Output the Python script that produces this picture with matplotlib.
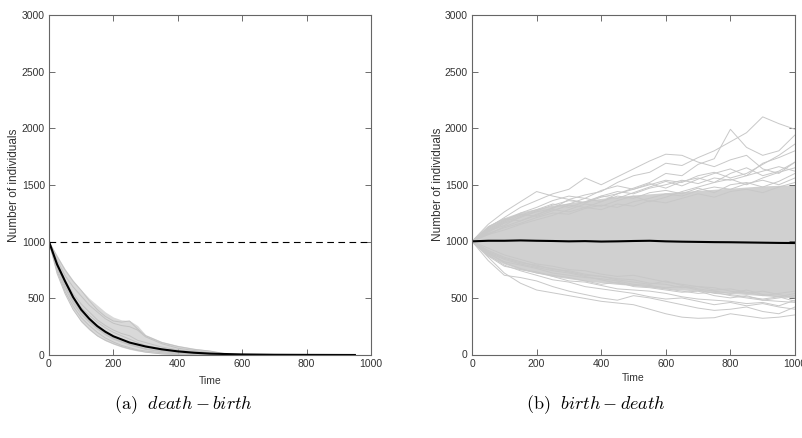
import matplotlib
matplotlib.use("Agg")
import matplotlib.pyplot as plt

plt.rcParams['font.family'] = ['Liberation Sans', 'DejaVu Sans']
plt.rcParams['mathtext.fontset'] = 'cm'

# ---- panel (a): death - birth ----
t_mean_a = [0, 25, 50, 75, 100, 125, 150, 175, 200, 250, 300, 350, 400, 450, 500, 600, 700, 800, 950]
mean_a = [1000, 800, 650, 510, 400, 320, 255, 205, 165, 110, 75, 50, 32, 20, 12, 5, 2, 1, 0]

t_a = [0, 25, 50, 75, 100, 125, 150, 175, 200, 225, 250, 275, 300, 350, 400, 450, 500, 550]
upper_a = [1000, 880, 760, 660, 575, 500, 440, 380, 335, 310, 305, 260, 180, 120, 85, 60, 40, 15]
lower_a = [1000, 720, 540, 400, 290, 220, 165, 125, 95, 70, 50, 35, 25, 10, 0, 0, 0, 0]
runs_a = [
    [1000, 870, 750, 650, 570, 480, 400, 340, 300, 290, 300, 230, 170, 110, 75, 50, 35, 10],
    [1000, 840, 700, 600, 520, 440, 380, 320, 280, 260, 250, 220, 160, 100, 60, 40, 20, 5],
    [1000, 820, 660, 540, 450, 380, 310, 260, 220, 190, 170, 130, 110, 70, 45, 30, 15, 0],
    [1000, 780, 610, 480, 380, 300, 240, 190, 150, 120, 95, 75, 55, 35, 20, 10, 5, 0],
    [1000, 740, 560, 430, 330, 260, 200, 150, 115, 85, 65, 45, 35, 20, 10, 5, 0, 0],
    [1000, 720, 540, 400, 300, 230, 170, 130, 100, 75, 55, 40, 25, 10, 5, 0, 0, 0],
    [1000, 800, 640, 510, 420, 350, 290, 240, 200, 170, 140, 110, 85, 55, 35, 25, 15, 5],
    [1000, 760, 590, 460, 360, 290, 230, 180, 140, 115, 90, 70, 50, 30, 18, 10, 5, 0],
]

# ---- panel (b): birth - death ----
t_b = list(range(0, 1001, 50))
mean_b = [1000, 1005, 1005, 1008, 1005, 1003, 1000, 1002, 998, 1000, 1003,
          1005, 1000, 997, 995, 993, 992, 990, 988, 986, 985]
band_hi_b = [1000, 1140, 1210, 1260, 1290, 1320, 1340, 1360, 1380, 1395, 1410,
             1420, 1430, 1440, 1450, 1460, 1470, 1480, 1490, 1495, 1500]
band_lo_b = [1000, 870, 800, 750, 720, 690, 670, 650, 635, 620, 610,
             595, 580, 570, 560, 550, 540, 530, 520, 510, 500]
runs_b = [
    # high outliers
    [1000, 1090, 1140, 1220, 1260, 1290, 1370, 1410, 1440, 1520, 1580, 1610, 1690, 1670, 1740, 1800, 1880, 1960, 2100, 2040, 1990],
    [1000, 1060, 1130, 1180, 1230, 1300, 1330, 1380, 1350, 1420, 1470, 1520, 1600, 1580, 1680, 1730, 1990, 1830, 1760, 1800, 1940],
    [1000, 1120, 1210, 1300, 1360, 1420, 1460, 1560, 1500, 1570, 1640, 1710, 1770, 1760, 1700, 1660, 1720, 1760, 1640, 1600, 1700],
    [1000, 1150, 1260, 1350, 1440, 1400, 1370, 1340, 1390, 1420, 1460, 1500, 1540, 1520, 1580, 1610, 1560, 1600, 1680, 1760, 1860],
    [1000, 1100, 1180, 1250, 1300, 1360, 1400, 1380, 1450, 1490, 1460, 1510, 1470, 1530, 1560, 1520, 1600, 1650, 1580, 1620, 1700],
    [1000, 1090, 1170, 1230, 1280, 1330, 1300, 1350, 1400, 1380, 1430, 1480, 1530, 1490, 1550, 1600, 1640, 1580, 1690, 1740, 1800],
    # upper middle
    [1000, 1070, 1120, 1160, 1210, 1250, 1240, 1290, 1320, 1300, 1350, 1380, 1420, 1400, 1450, 1480, 1460, 1510, 1540, 1500, 1560],
    [1000, 1110, 1190, 1240, 1220, 1270, 1320, 1300, 1350, 1400, 1380, 1430, 1450, 1420, 1470, 1430, 1500, 1520, 1480, 1530, 1600],
    [1000, 1060, 1100, 1150, 1190, 1230, 1280, 1330, 1310, 1360, 1400, 1350, 1390, 1440, 1480, 1520, 1550, 1500, 1560, 1610, 1650],
    [1000, 1130, 1200, 1180, 1240, 1280, 1260, 1300, 1280, 1330, 1310, 1360, 1340, 1380, 1420, 1390, 1440, 1460, 1430, 1480, 1520],
    [1000, 1080, 1160, 1210, 1270, 1320, 1360, 1340, 1400, 1440, 1420, 1470, 1500, 1540, 1510, 1560, 1540, 1580, 1620, 1660, 1620],
    # lower middle
    [1000, 920, 860, 820, 780, 760, 730, 700, 690, 660, 640, 620, 650, 610, 580, 560, 540, 570, 530, 510, 540],
    [1000, 900, 840, 800, 770, 740, 720, 690, 660, 630, 610, 600, 580, 560, 540, 550, 520, 500, 480, 500, 520],
    [1000, 940, 880, 840, 800, 780, 750, 740, 710, 690, 700, 670, 640, 620, 600, 590, 560, 540, 560, 530, 500],
    [1000, 890, 820, 790, 760, 720, 700, 680, 670, 650, 620, 610, 590, 600, 570, 540, 530, 510, 490, 510, 470],
    [1000, 910, 850, 810, 790, 750, 740, 710, 690, 670, 660, 630, 620, 590, 600, 570, 580, 550, 520, 540, 560],
    # low outliers
    [1000, 860, 720, 630, 570, 545, 520, 495, 470, 455, 440, 400, 360, 330, 320, 325, 360, 340, 320, 330, 350],
    [1000, 830, 700, 680, 650, 600, 560, 530, 500, 480, 520, 500, 470, 440, 410, 390, 400, 420, 380, 360, 420],
    [1000, 880, 790, 740, 700, 660, 640, 600, 580, 560, 540, 510, 490, 500, 470, 440, 460, 430, 450, 420, 400],
    [1000, 900, 810, 760, 720, 700, 680, 650, 620, 640, 600, 590, 570, 550, 560, 520, 500, 520, 480, 470, 460],
    [1000, 870, 780, 750, 730, 690, 650, 640, 610, 580, 570, 560, 540, 510, 490, 480, 470, 450, 460, 430, 480],
]

grey = '#c8c8c8'

fig = plt.figure(figsize=(8.02, 4.38), dpi=100)
ax1 = fig.add_axes([49 / 802, 83 / 438, 322 / 802, 340 / 438])
ax2 = fig.add_axes([472 / 802, 83.5 / 438, 323 / 802, 339.5 / 438])

# panel a
ax1.fill_between(t_a, lower_a, upper_a, color='#d9d9d9', lw=0)
for r in runs_a:
    ax1.plot(t_a, r, color='#c2c2c2', lw=0.7)
ax1.plot(t_mean_a, mean_a, color='k', lw=1.5)
ax1.axhline(1000, color='k', lw=0.8, ls='--', dashes=(6, 4))

# panel b
ax2.fill_between(t_b, band_lo_b, band_hi_b, color='#d0d0d0', lw=0)
for r in runs_b:
    ax2.plot(t_b, r, color=grey, lw=0.7)
ax2.plot(t_b, mean_b, color='k', lw=1.5)

for ax, ly, ty in [(ax1, -0.09, -0.062), (ax2, -0.087, -0.054)]:
    ax.set_xlim(0, 1000)
    ax.set_ylim(0, 3000)
    ax.set_xticks(range(0, 1001, 200))
    ax.set_yticks(range(0, 3001, 500))
    ax.tick_params(direction='in', top=True, right=True, length=4, width=0.6,
                   color='#555555', labelcolor='#333333', labelsize=7.5, pad=3)
    for s in ax.spines.values():
        s.set_color('#666666')
        s.set_linewidth(0.8)
    ax.set_xlabel('Time', fontsize=7.5, color='#333333')
    ax.set_ylabel('Number of individuals', fontsize=8.5, color='#333333')
    ax.yaxis.set_label_coords(ly, 0.5)
    ax.xaxis.set_label_coords(0.5, ty)

fig.text(183 / 802, 1 - 405 / 438, r'$\mathrm{(a)}\ \ death - birth$', fontsize=13,
         ha='center', va='center')
fig.text(596 / 802, 1 - 405 / 438, r'$\mathrm{(b)}\ \ birth - death$', fontsize=13,
         ha='center', va='center')

fig.savefig('out.png', dpi=100)
